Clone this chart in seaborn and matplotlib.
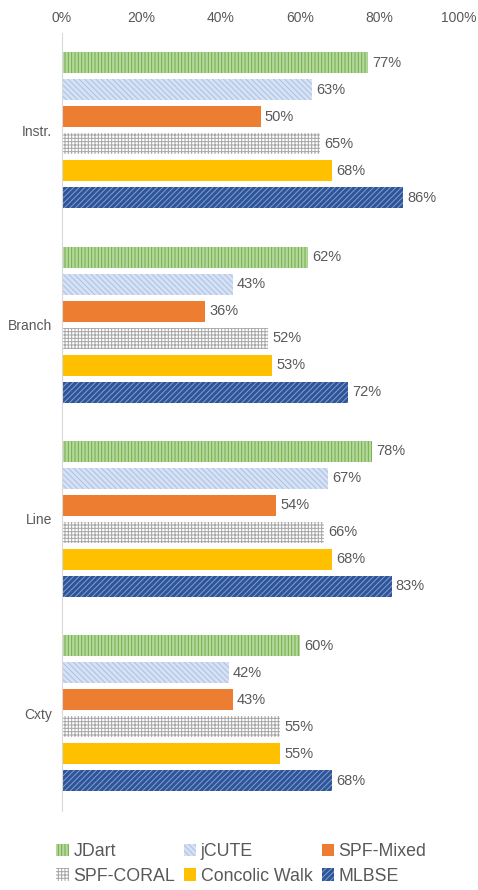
import matplotlib
matplotlib.use("Agg")
import matplotlib.pyplot as plt
import seaborn as sns
import pandas as pd
from matplotlib.patches import Patch

metrics = ["Instr.", "Branch", "Line", "Cxty"]
tools = ["JDart", "jCUTE", "SPF-Mixed", "SPF-CORAL", "Concolic Walk", "MLBSE"]
jdart = [77, 62, 78, 60]
jcute = [63, 43, 67, 42]
spf_mixed = [50, 36, 54, 43]
spf_coral = [65, 52, 66, 55]
concolic_walk = [68, 53, 68, 55]
mlbse = [86, 72, 83, 68]
x_ticks = [0, 20, 40, 60, 80, 100]

series = [jdart, jcute, spf_mixed, spf_coral, concolic_walk, mlbse]
rows = []
for t, vals in zip(tools, series):
    for m, v in zip(metrics, vals):
        rows.append({"metric": m, "tool": t, "value": v})
df = pd.DataFrame(rows)

styles = {
    "JDart": dict(face="#B5D99C", edge="#70AD47", hatch="|||||"),
    "jCUTE": dict(face="#D6E1F3", edge="#A9C0E6", hatch="\\\\\\\\\\\\"),
    "SPF-Mixed": dict(face="#ED7D31", edge="#ED7D31", hatch=None),
    "SPF-CORAL": dict(face="#FFFFFF", edge="#A6A6A6", hatch="+++++"),
    "Concolic Walk": dict(face="#FFC000", edge="#FFC000", hatch=None),
    "MLBSE": dict(face="#2F5597", edge="#7F9FD6", hatch="//////"),
}

sns.set_theme(style="white")
plt.rcParams["font.family"] = ["Liberation Sans", "DejaVu Sans"]
plt.rcParams["hatch.linewidth"] = 0.7

fig = plt.figure(figsize=(4.78, 8.9), dpi=100)
ax = fig.add_axes([62 / 478, 1 - 810.5 / 890, 397 / 478, 777.5 / 890])

palette = {t: styles[t]["face"] for t in tools}
sns.barplot(data=df, y="metric", x="value", hue="tool", hue_order=tools,
            order=metrics, orient="h", palette=palette, width=0.833, gap=0.22,
            ax=ax, legend=False, saturation=1, errorbar=None)

for cont, t in zip(ax.containers, tools):
    st = styles[t]
    for bar in cont:
        bar.set_facecolor(st["face"])
        bar.set_edgecolor(st["edge"])
        bar.set_linewidth(0)
        if st["hatch"]:
            bar.set_hatch(st["hatch"])
    ax.bar_label(cont, labels=[f"{int(v)}%" for v in cont.datavalues],
                 padding=3, fontsize=10.5, color="#595959")

ax.set_xlim(0, 100)
ax.set_ylim(3.5, -0.5)
ax.set_xticks(x_ticks)
ax.set_xticklabels([f"{v}%" for v in x_ticks])
ax.xaxis.tick_top()
ax.tick_params(axis="x", length=0, pad=6, labelsize=10, labelcolor="#595959")
ax.tick_params(axis="y", length=0, pad=7, labelsize=10, labelcolor="#595959")
ax.set_xlabel("")
ax.set_ylabel("")
for s in ["top", "right", "bottom"]:
    ax.spines[s].set_visible(False)
ax.spines["left"].set_color("#D9D9D9")
ax.spines["left"].set_linewidth(0.8)
ax.grid(False)

# legend in row-major order (matplotlib fills columns first)
legend_order = ["JDart", "SPF-CORAL", "jCUTE", "Concolic Walk", "SPF-Mixed", "MLBSE"]
handles = []
for t in legend_order:
    st = styles[t]
    handles.append(Patch(facecolor=st["face"], edgecolor=st["edge"], linewidth=0,
                         hatch=st["hatch"], label=t))
fig.legend(handles=handles, labels=legend_order, ncol=3, loc="center",
           bbox_to_anchor=(0.505, 1 - 864 / 890), frameon=False,
           fontsize=12.8, handlelength=0.7, handleheight=0.7,
           handletextpad=0.25, columnspacing=0.5, labelspacing=0.4,
           labelcolor="#595959")

fig.savefig("out.png", dpi=100)
